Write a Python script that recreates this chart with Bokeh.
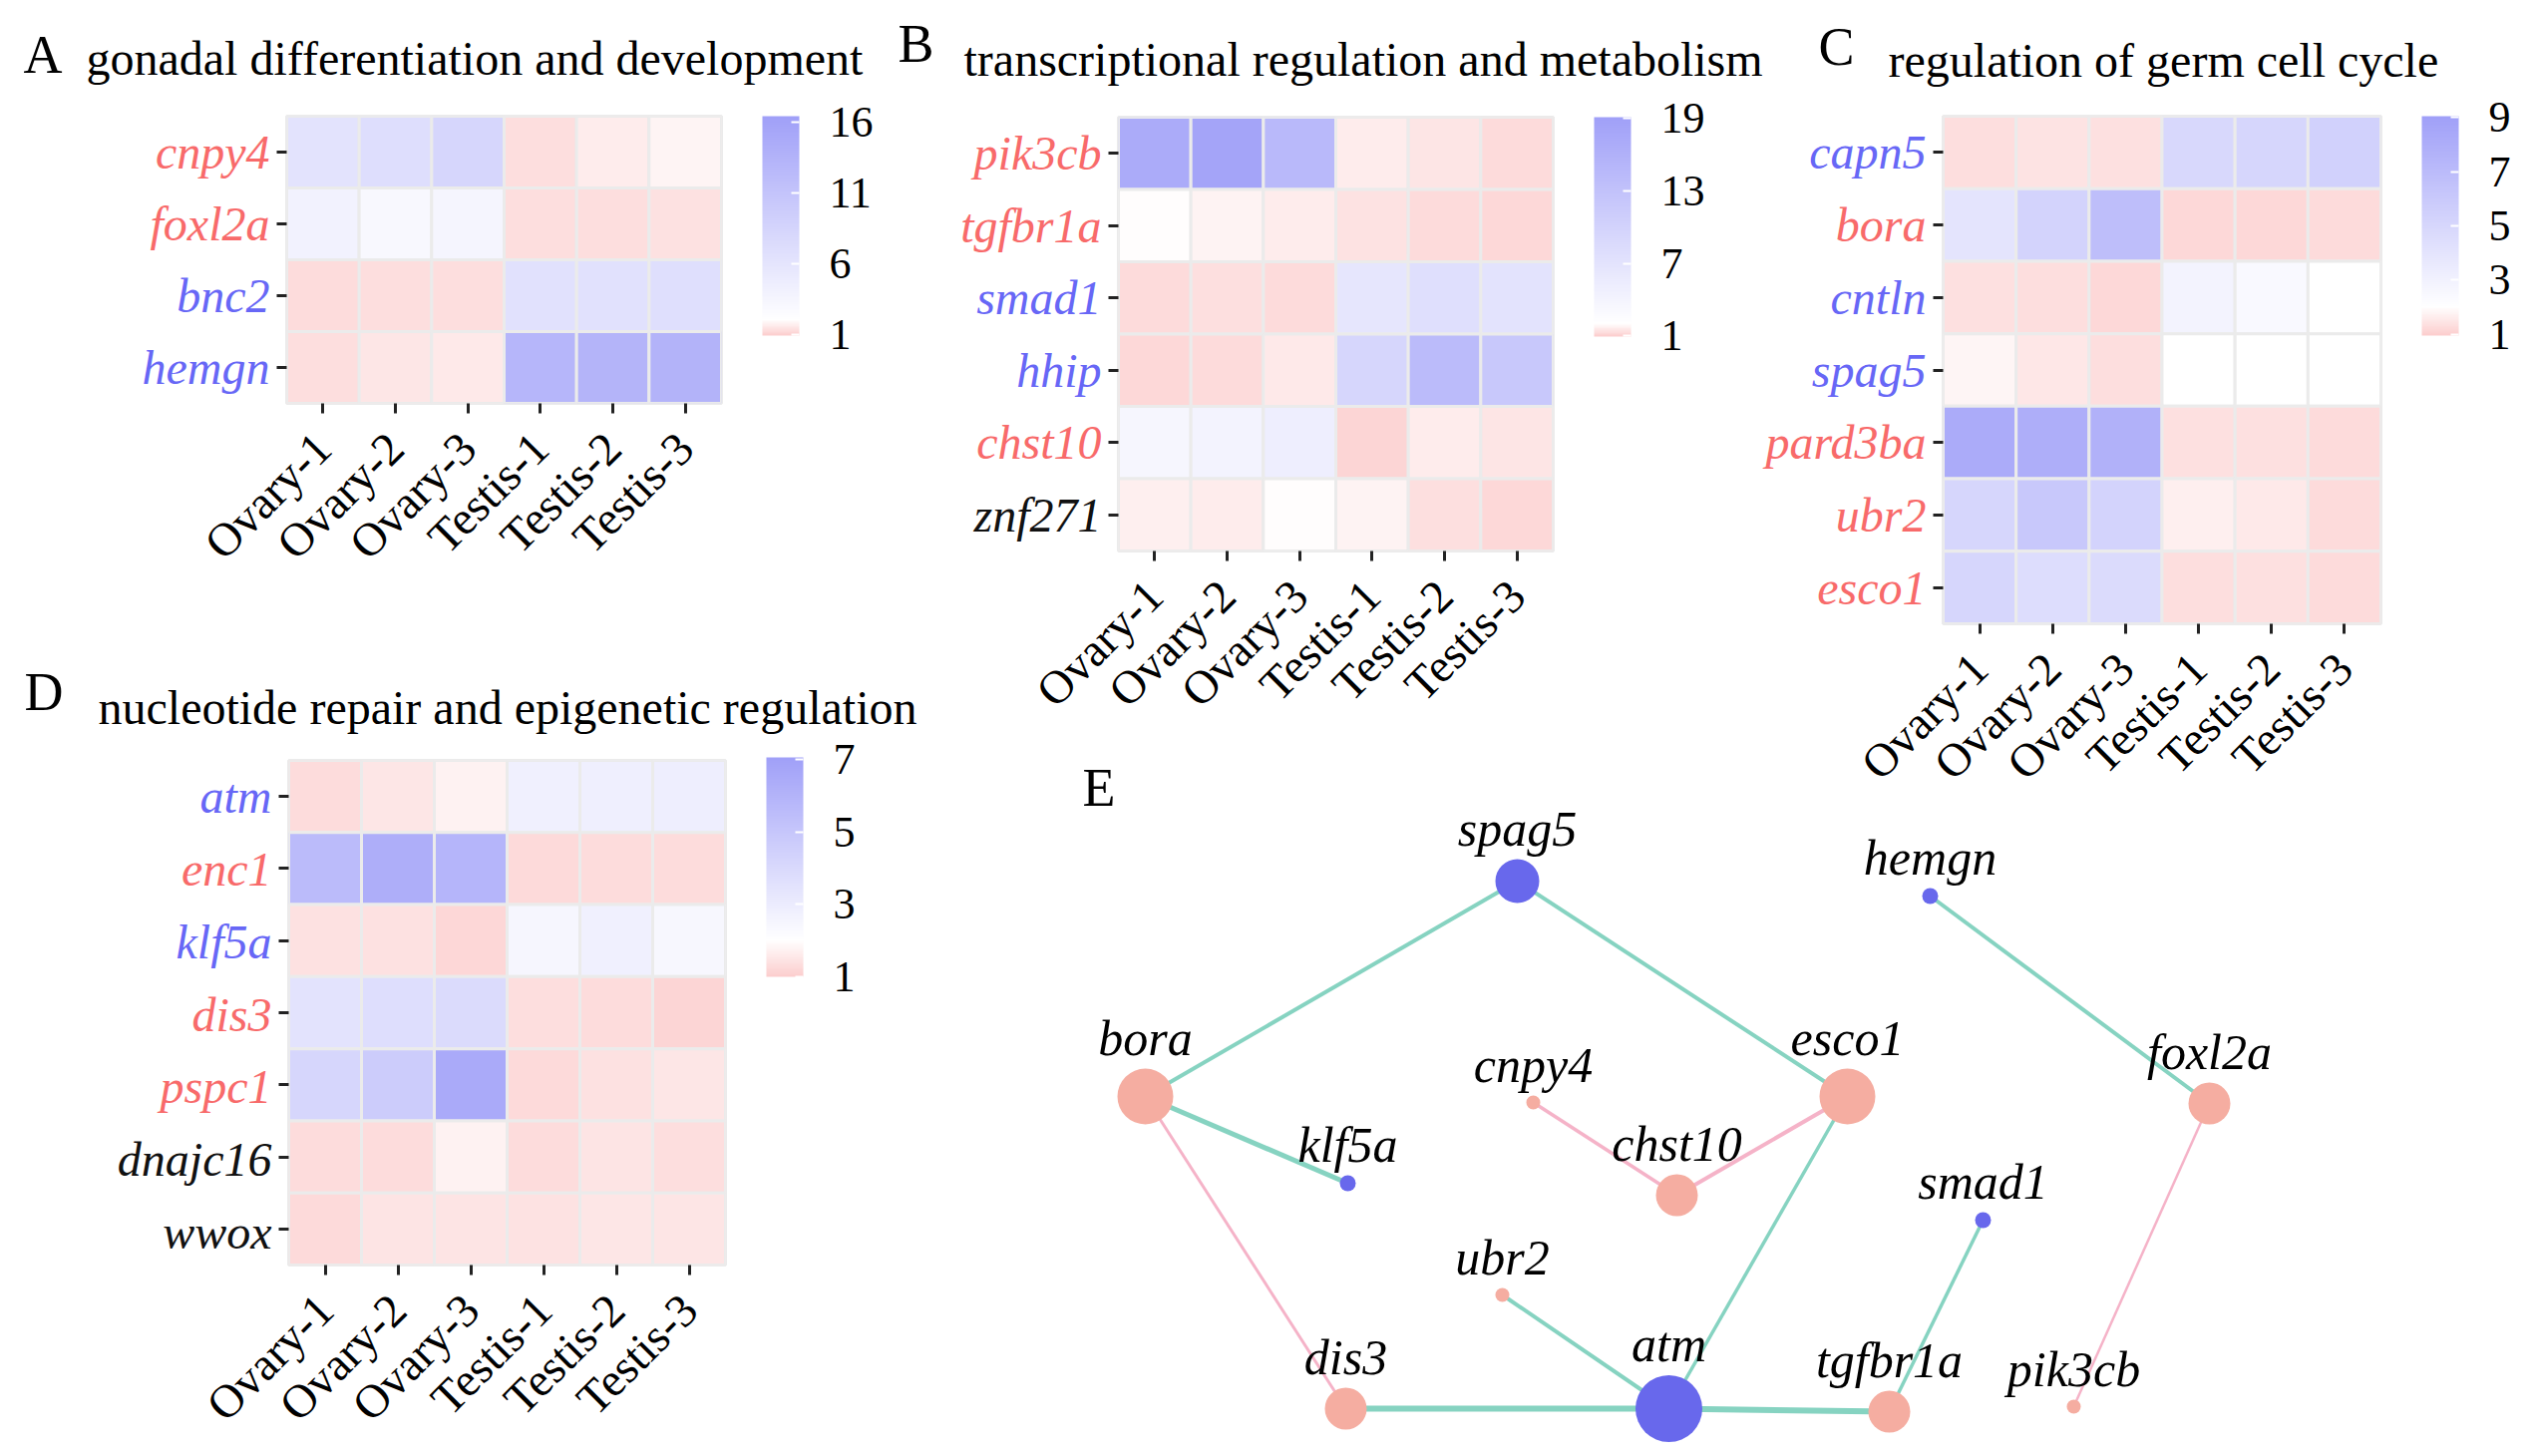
import math
from bokeh.plotting import figure
from bokeh.layouts import column
from bokeh.models import (FactorRange, Range1d, LinearColorMapper, ColorBar, FixedTicker,
                          ColumnDataSource, GridBox)
from bokeh.transform import transform
from bokeh.core.properties import value
from bokeh.embed import file_html
from bokeh.resources import INLINE

SAMPLES = ["Ovary-1", "Ovary-2", "Ovary-3", "Testis-1", "Testis-2", "Testis-3"]

# ---------------- Panel A ----------------
A_TITLE = "gonadal differentiation and development"
A_GENES = ["cnpy4", "foxl2a", "bnc2", "hemgn"]
A_GROUP = ["ovary", "ovary", "testis", "testis"]
A_VALUES = [
    [6.2, 7.0, 8.2, 1.3, 1.6, 1.8],
    [4.0, 3.1, 3.6, 1.3, 1.3, 1.35],
    [1.25, 1.3, 1.3, 6.5, 6.6, 6.8],
    [1.3, 1.5, 1.55, 13.0, 13.4, 13.5],
]
A_TICKS = [1, 6, 11, 16]
A_LIMITS = (0.9, 16.4)

# ---------------- Panel B ----------------
B_TITLE = "transcriptional regulation and metabolism"
B_GENES = ["pik3cb", "tgfbr1a", "smad1", "hhip", "chst10", "znf271"]
B_GROUP = ["ovary", "ovary", "testis", "testis", "ovary", "none"]
B_VALUES = [
    [17.1, 18.3, 14.7, 1.65, 1.45, 1.25],
    [1.95, 1.8, 1.6, 1.4, 1.3, 1.2],
    [1.3, 1.35, 1.25, 6.6, 7.7, 7.0],
    [1.2, 1.3, 1.55, 9.4, 14.2, 12.0],
    [3.7, 4.1, 5.1, 1.15, 1.65, 1.5],
    [1.7, 1.65, 2.0, 1.8, 1.35, 1.2],
]
B_TICKS = [1, 7, 13, 19]
B_LIMITS = (0.95, 19.1)

# ---------------- Panel C ----------------
C_TITLE = "regulation of germ cell cycle"
C_GENES = ["capn5", "bora", "cntln", "spag5", "pard3ba", "ubr2", "esco1"]
C_GROUP = ["testis", "ovary", "testis", "testis", "ovary", "ovary", "ovary"]
C_VALUES = [
    [1.3, 1.4, 1.35, 4.9, 5.05, 5.4],
    [4.05, 5.25, 6.8, 1.2, 1.2, 1.25],
    [1.35, 1.3, 1.2, 2.85, 2.5, 2.05],
    [1.8, 1.5, 1.3, 2.05, 2.0, 2.05],
    [8.2, 8.0, 7.8, 1.35, 1.33, 1.25],
    [5.05, 6.1, 5.25, 1.65, 1.55, 1.25],
    [5.05, 4.5, 4.7, 1.3, 1.35, 1.25],
]
C_TICKS = [1, 3, 5, 7, 9]
C_LIMITS = (0.95, 9.05)

# ---------------- Panel D ----------------
D_TITLE = "nucleotide repair and epigenetic regulation"
D_GENES = ["atm", "enc1", "klf5a", "dis3", "pspc1", "dnajc16", "wwox"]
D_GROUP = ["testis", "ovary", "testis", "ovary", "ovary", "none", "none"]
D_VALUES = [
    [1.3, 1.5, 1.75, 2.8, 2.85, 2.9],
    [5.6, 6.3, 5.95, 1.25, 1.3, 1.3],
    [1.4, 1.4, 1.2, 2.5, 2.8, 2.4],
    [3.5, 3.75, 3.9, 1.35, 1.3, 1.15],
    [4.15, 4.7, 6.5, 1.25, 1.4, 1.5],
    [1.3, 1.3, 1.75, 1.3, 1.45, 1.35],
    [1.25, 1.45, 1.45, 1.42, 1.5, 1.48],
]
D_TICKS = [1, 3, 5, 7]
D_LIMITS = (1.0, 7.05)

# ---------------- Panel E (network) ----------------
NODE_NAMES = ["spag5", "hemgn", "bora", "esco1", "foxl2a", "cnpy4", "chst10",
              "klf5a", "smad1", "ubr2", "dis3", "atm", "tgfbr1a", "pik3cb"]
NODE_X = [1521, 1935, 1148, 1852, 2215, 1537, 1681, 1351, 1988, 1506, 1349, 1673, 1894, 2079]
NODE_Y = [883, 898, 1099, 1099, 1106, 1105, 1198, 1186, 1223, 1298, 1412, 1412, 1415, 1410]
NODE_SIZE = [44, 16, 56, 56, 42, 14, 42, 16, 16, 14, 42, 67, 42, 14]
NODE_GROUP = ["testis", "testis", "ovary", "ovary", "ovary", "ovary", "ovary",
              "testis", "testis", "ovary", "ovary", "testis", "ovary", "ovary"]
EDGE_SOURCE = ["spag5", "spag5", "hemgn", "bora", "bora", "cnpy4", "chst10",
               "esco1", "ubr2", "dis3", "atm", "tgfbr1a", "foxl2a"]
EDGE_TARGET = ["bora", "esco1", "foxl2a", "klf5a", "dis3", "chst10", "esco1",
               "atm", "atm", "atm", "tgfbr1a", "smad1", "pik3cb"]
EDGE_SIGN = ["pos", "pos", "pos", "pos", "neg", "neg", "neg",
             "pos", "pos", "pos", "pos", "pos", "neg"]
EDGE_WEIGHT = [4, 4, 4, 5, 3, 3.5, 4, 3.5, 4, 6, 6, 3.5, 2.5]

# ---------------- styling ----------------
FONT = "Liberation Serif"
LABEL_COLORS = {"ovary": "#F86A6A", "testis": "#6767F6", "none": "#111111"}
NODE_COLORS = {"ovary": "#F5ADA1", "testis": "#6868EC"}
EDGE_COLORS = {"pos": "#86D3C1", "neg": "#F5B3C8"}
PINK_END = (252, 206, 206)
BLUE_END = (160, 160, 248)
WHITE_AT = 2.0
BASELINE_SHIFT = -15  # screen px

PAGE_W, PAGE_H = 2544, 1456
GRID_COLS = [895, 41, 829, 20, 759]
GRID_ROWS = [665, 100, 25, 666]

# panel geometry (page pixels): origin, figure size, heatmap frame (left, top, w, h)
PANELS = [
    dict(letter="A", title=A_TITLE, genes=A_GENES, groups=A_GROUP, values=A_VALUES,
         ticks=A_TICKS, limits=A_LIMITS, origin=(0, 0), size=(895, 665),
         frame=(287, 116, 436, 288), letter_at=(23, 69), title_at=(86, 73),
         cell=(0, 0, 1, 1)),
    dict(letter="B", title=B_TITLE, genes=B_GENES, groups=B_GROUP, values=B_VALUES,
         ticks=B_TICKS, limits=B_LIMITS, origin=(895, 0), size=(890, 790),
         frame=(1121, 117, 436, 435), letter_at=(900, 58), title_at=(966, 74),
         cell=(0, 1, 3, 3)),
    dict(letter="C", title=C_TITLE, genes=C_GENES, groups=C_GROUP, values=C_VALUES,
         ticks=C_TICKS, limits=C_LIMITS, origin=(1765, 0), size=(779, 1456),
         frame=(1948, 116, 439, 509), letter_at=(1823, 61), title_at=(1893, 75),
         cell=(0, 3, 4, 2)),
    dict(letter="D", title=D_TITLE, genes=D_GENES, groups=D_GROUP, values=D_VALUES,
         ticks=D_TICKS, limits=D_LIMITS, origin=(0, 665), size=(936, 791),
         frame=(289, 762, 438, 509), letter_at=(24, 708), title_at=(98, 724),
         cell=(1, 0, 3, 2)),
]


def make_palette(lo, hi, n=256):
    pal = []
    for i in range(n):
        v = lo + (hi - lo) * i / (n - 1)
        if v < WHITE_AT:
            t = (WHITE_AT - v) / (WHITE_AT - lo)
            c = [round(255 + (e - 255) * t) for e in PINK_END]
        else:
            t = (v - WHITE_AT) / (hi - WHITE_AT)
            c = [round(255 + (e - 255) * t) for e in BLUE_END]
        pal.append("#%02x%02x%02x" % tuple(c))
    return pal


def heatmap_panel(cfg):
    ox, oy = cfg["origin"]
    W, H = cfg["size"]
    fx, fy, fw, fh = cfg["frame"]
    fl, ft = fx - ox, fy - oy
    rows, cols, vals = [], [], []
    for g, rowvals in zip(cfg["genes"], cfg["values"]):
        for s, v in zip(SAMPLES, rowvals):
            rows.append(g)
            cols.append(s)
            vals.append(v)
    src = ColumnDataSource(dict(row=rows, col=cols, val=vals))
    p = figure(width=W, height=H,
               x_range=FactorRange(*SAMPLES), y_range=FactorRange(*reversed(cfg["genes"])),
               output_backend="svg", toolbar_location=None,
               min_border_left=fl, min_border_top=ft,
               min_border_right=W - fl - fw, min_border_bottom=H - ft - fh)
    p.background_fill_alpha = 0
    p.border_fill_alpha = 0
    p.outline_line_color = "#EBEBEB"
    p.outline_line_width = 3
    p.grid.visible = False
    lo, hi = cfg["limits"]
    mapper = LinearColorMapper(palette=make_palette(lo, hi), low=lo, high=hi)
    p.rect(x="col", y="row", width=1, height=1, source=src,
           fill_color=transform("val", mapper), line_color="#EBEBEB", line_width=3)

    xa = p.xaxis[0]
    xa.major_label_orientation = math.pi / 4
    xa.major_label_text_font = FONT
    xa.major_label_text_font_size = "47px"
    xa.major_label_text_color = "black"
    xa.major_label_standoff = 27
    xa.major_tick_out = 10
    xa.major_tick_in = 0
    xa.major_tick_line_width = 3
    xa.major_tick_line_color = "#222222"
    xa.axis_line_color = None

    ya = p.yaxis[0]
    ya.major_label_text_color = None
    ya.major_tick_out = 10
    ya.major_tick_in = 0
    ya.major_tick_line_width = 3
    ya.major_tick_line_color = "#222222"
    ya.axis_line_color = None

    cb = ColorBar(color_mapper=mapper, ticker=FixedTicker(ticks=cfg["ticks"]),
                  location=(fw + 41, fh - 220), orientation="vertical",
                  width=37, height=220, padding=0, margin=0,
                  major_label_text_font=FONT, major_label_text_font_size="44px",
                  major_label_text_color="black",
                  label_standoff=30, major_tick_line_color="white",
                  major_tick_line_width=2, major_tick_in=8, major_tick_out=0,
                  bar_line_color=None, border_line_color=None,
                  background_fill_alpha=0)
    p.add_layout(cb, "center")
    return p


figs = [heatmap_panel(cfg) for cfg in PANELS]

# ---------------- overlay: texts + network (page pixel coordinates) ----------------
pT = figure(width=PAGE_W, height=PAGE_H, x_range=Range1d(0, PAGE_W), y_range=Range1d(PAGE_H, 0),
            output_backend="svg", toolbar_location=None,
            min_border_left=0, min_border_right=0, min_border_top=0, min_border_bottom=0)
pT.axis.visible = False
pT.grid.visible = False
pT.outline_line_color = None
pT.background_fill_alpha = 0
pT.border_fill_alpha = 0

# panel letters and titles
letters_x = [cfg["letter_at"][0] for cfg in PANELS] + [1085]
letters_y = [cfg["letter_at"][1] for cfg in PANELS] + [804]
letters_t = [cfg["letter"] for cfg in PANELS] + ["E"]
pT.text(x=letters_x, y=letters_y, text=letters_t, text_font=value(FONT),
        text_font_size="54px", text_color="black", text_baseline="alphabetic",
        text_align="left", y_offset=BASELINE_SHIFT)
pT.text(x=[cfg["title_at"][0] for cfg in PANELS], y=[cfg["title_at"][1] for cfg in PANELS],
        text=[cfg["title"] for cfg in PANELS], text_font=value(FONT),
        text_font_size="48px", text_color="black", text_baseline="alphabetic",
        text_align="left", y_offset=BASELINE_SHIFT)

# gene (row) labels, aligned with heatmap rows
gx, gy, gt, gc = [], [], [], []
for cfg in PANELS:
    fx, fy, fw, fh = cfg["frame"]
    n = len(cfg["genes"])
    for i, (g, grp) in enumerate(zip(cfg["genes"], cfg["groups"])):
        gx.append(fx - 17)
        gy.append(fy + (i + 0.5) * fh / n)
        gt.append(g)
        gc.append(LABEL_COLORS[grp])
pT.text(x=gx, y=gy, text=gt, text_color=gc, text_align="right", text_baseline="middle",
        text_font=value(FONT), text_font_style="italic", text_font_size="48px")

# network
pos = {n: (x, y) for n, x, y in zip(NODE_NAMES, NODE_X, NODE_Y)}
edge_src = ColumnDataSource(dict(
    x0=[pos[s][0] for s in EDGE_SOURCE], y0=[pos[s][1] for s in EDGE_SOURCE],
    x1=[pos[t][0] for t in EDGE_TARGET], y1=[pos[t][1] for t in EDGE_TARGET],
    color=[EDGE_COLORS[s] for s in EDGE_SIGN], w=EDGE_WEIGHT))
pT.segment(x0="x0", y0="y0", x1="x1", y1="y1", source=edge_src,
           line_color="color", line_width="w")
node_src = ColumnDataSource(dict(
    x=NODE_X, y=NODE_Y, size=NODE_SIZE, name=NODE_NAMES,
    color=[NODE_COLORS[g] for g in NODE_GROUP],
    yoff=[-(s / 2 + 16) + BASELINE_SHIFT for s in NODE_SIZE]))
pT.scatter(x="x", y="y", size="size", source=node_src, fill_color="color", line_color=None)
pT.text(x="x", y="y", text="name", source=node_src, y_offset="yoff",
        text_align="center", text_baseline="alphabetic", text_font=value(FONT),
        text_font_style="italic", text_font_size="50px", text_color="black")

children = [(column(f), *cfg["cell"]) for f, cfg in zip(figs, PANELS)]
children.append((column(pT), 0, 0, len(GRID_ROWS), len(GRID_COLS)))
grid = GridBox(children=children,
               cols=["%dpx" % c for c in GRID_COLS],
               rows=["%dpx" % r for r in GRID_ROWS], spacing=0)

open("out.html", "w").write(file_html(grid, INLINE))
